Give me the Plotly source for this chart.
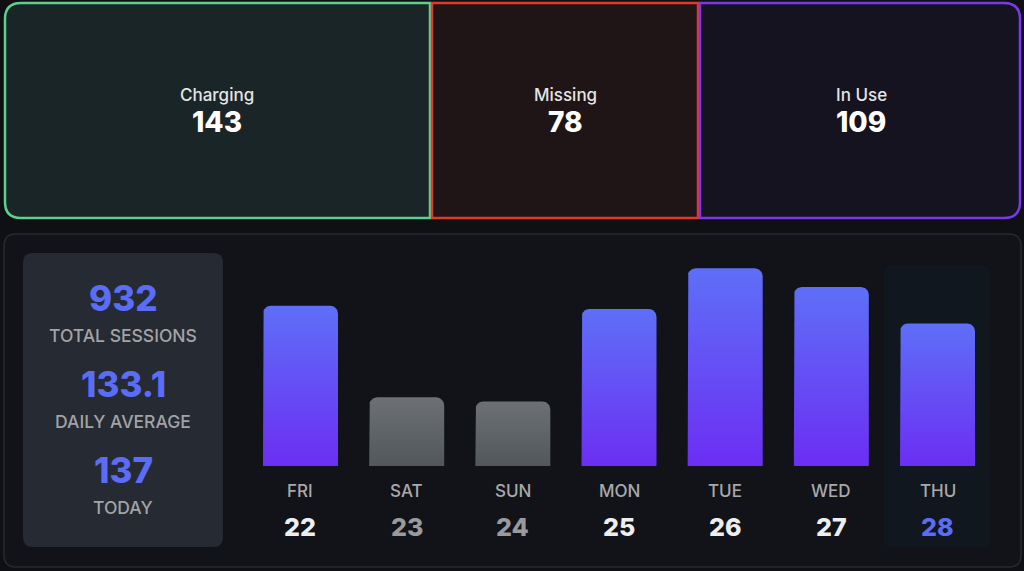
import math
import plotly.graph_objects as go

W, H = 1024, 571

CARD_LABELS = ["Charging", "Missing", "In Use"]
CARD_VALUES = [143, 78, 109]

DAYS = ["FRI", "SAT", "SUN", "MON", "TUE", "WED", "THU"]
DATES = [22, 23, 24, 25, 26, 27, 28]
SESSIONS = [154, 66, 62, 151, 190, 172, 137]
WEEKEND = [False, True, True, False, False, False, False]

STAT_VALUES = ["932", "133.1", "137"]
STAT_LABELS = ["TOTAL SESSIONS", "DAILY AVERAGE", "TODAY"]

FONT = "Inter"
BLUE = "#5b6cf6"


def px(x):
    return x / W


def py(y):
    return 1 - y / H


def rounded_path(x0, y0, x1, y1, tl=0, tr=0, br=0, bl=0):
    # pixel box (y down) -> svg path in paper coords
    def p(x, y):
        return f"{px(x):.5f},{py(y):.5f}"
    return (f"M{p(x0 + tl, y0)} L{p(x1 - tr, y0)} Q{p(x1, y0)} {p(x1, y0 + tr)} "
            f"L{p(x1, y1 - br)} Q{p(x1, y1)} {p(x1 - br, y1)} "
            f"L{p(x0 + bl, y1)} Q{p(x0, y1)} {p(x0, y1 - bl)} "
            f"L{p(x0, y0 + tl)} Q{p(x0, y0)} {p(x0 + tl, y0)} Z")


def label(x, y, text, size, color, weight=400, xref="paper"):
    return dict(x=x, y=y, xref=xref, yref="paper", text=text, showarrow=False,
                xanchor="center", yanchor="middle",
                font=dict(family=FONT, size=size, color=color, weight=weight))


fig = go.Figure()
shapes = []
annotations = []

# top status cards
cards = [
    dict(box=(5, 3, 430, 218), r=(16, 0, 0, 16), line="#5fcf8c", fill="#1a2528", cx=217),
    dict(box=(432, 3, 698, 218), r=(0, 0, 0, 0), line="#e3382a", fill="#1f1416", cx=565),
    dict(box=(700, 3, 1020, 218), r=(0, 16, 16, 0), line="#7a38ee", fill="#15131f", cx=861),
]
for c, name, val in zip(cards, CARD_LABELS, CARD_VALUES):
    x0, y0, x1, y1 = c["box"]
    shapes.append(dict(type="path", xref="paper", yref="paper", layer="below",
                       path=rounded_path(x0, y0, x1, y1, *c["r"]),
                       fillcolor=c["fill"], line=dict(color=c["line"], width=2.5)))
    annotations.append(label(px(c["cx"]), py(95), name, 17, "#e4e4e4", 500))
    annotations.append(label(px(c["cx"]), py(122), str(val), 28, "#ffffff", 800))

# lower panel
shapes.append(dict(type="path", xref="paper", yref="paper", layer="below",
                   path=rounded_path(4, 234, 1021, 567, 12, 12, 12, 12),
                   fillcolor="#111318", line=dict(color="#272a32", width=1.5)))
# stats box
shapes.append(dict(type="path", xref="paper", yref="paper", layer="below",
                   path=rounded_path(23, 253, 223, 547, 10, 10, 10, 10),
                   fillcolor="#252a33", line=dict(width=0)))
# today highlight
shapes.append(dict(type="path", xref="paper", yref="paper", layer="below",
                   path=rounded_path(884, 265, 990, 547, 7, 7, 7, 7),
                   fillcolor="#11171e", line=dict(width=0)))

stat_y = [(298, 335), (384, 421), (470, 507)]
for (yv, yl), v, lab in zip(stat_y, STAT_VALUES, STAT_LABELS):
    annotations.append(label(px(123), py(yv), v, 35, BLUE, 800))
    annotations.append(label(px(123), py(yl), lab, 17.5, "#a3a3a6", 500))

# bar chart geometry
x_left, x_right = 247.4, 990.6
y_base, y_top = 466, 253
y_max = 204.7
unit_x = (x_right - x_left) / len(DAYS)       # px per category
unit_y = (y_base - y_top) / y_max             # px per session
half_w = 37.5 / unit_x
rad = 8

for i, v in enumerate(SESSIONS):
    rx, ry = rad / unit_x, rad / unit_y
    xs = [i - half_w]
    ys = [0]
    for k in range(9):
        a = math.pi - k * math.pi / 16
        xs.append(i - half_w + rx + rx * math.cos(a))
        ys.append(v - ry + ry * math.sin(a))
    for k in range(9):
        a = math.pi / 2 - k * math.pi / 16
        xs.append(i + half_w - rx + rx * math.cos(a))
        ys.append(v - ry + ry * math.sin(a))
    xs.append(i + half_w)
    ys.append(0)
    if WEEKEND[i]:
        scale = [[0, "#52575c"], [1, "#6d7176"]]
    else:
        scale = [[0, "#6c2ef3"], [1, "#5e6ff7"]]
    fig.add_trace(go.Scatter(x=xs, y=ys, mode="lines", fill="toself", line=dict(width=0),
                             fillgradient=dict(type="vertical", colorscale=scale),
                             hoverinfo="skip", showlegend=False))

    if i == len(DAYS) - 1:
        date_col = BLUE
    elif WEEKEND[i]:
        date_col = "#9a9a9c"
    else:
        date_col = "#eeeeee"
    annotations.append(label(i, py(491), DAYS[i], 17, "#a9a9ab", 500, xref="x"))
    annotations.append(label(i, py(527), str(DATES[i]), 25, date_col, 800, xref="x"))

fig.update_layout(
    width=W, height=H,
    margin=dict(l=0, r=0, t=0, b=0),
    paper_bgcolor="#0e1014",
    plot_bgcolor="rgba(0,0,0,0)",
    shapes=shapes,
    annotations=annotations,
    xaxis=dict(domain=[px(x_left), px(x_right)], range=[-0.5, len(DAYS) - 0.5],
               visible=False, fixedrange=True),
    yaxis=dict(domain=[py(y_base), py(y_top)], range=[0, y_max], visible=False, fixedrange=True),
)

fig.write_html("out.html", config={"displayModeBar": False},
               post_script="document.body.style.margin='0';document.body.style.overflow='hidden';")
